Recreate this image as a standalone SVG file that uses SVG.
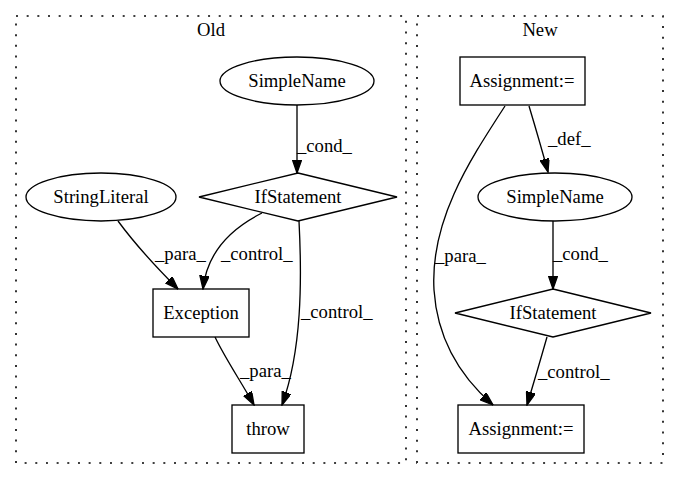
<svg xmlns="http://www.w3.org/2000/svg" width="679" height="480" viewBox="0 0 679 480">
<defs>
<style>
text{font-family:"Liberation Serif","Times New Roman",serif;font-size:18.67px;fill:#000}
.n{fill:none;stroke:#000;stroke-width:1.33}
.c{fill:none;stroke:#000;stroke-width:1.6;stroke-dasharray:2,8.67}
.e{fill:none;stroke:#000;stroke-width:1.33;marker-end:url(#a)}
</style>
<marker id="a" markerWidth="14" markerHeight="10" refX="13.3" refY="4.7" orient="auto" markerUnits="userSpaceOnUse">
<path d="M0,0 L13.3,4.7 L0,9.3 Z" fill="#000" stroke="#000" stroke-width="1.33"/>
</marker>
</defs>
<rect width="679" height="480" fill="#fff"/>
<g id="clusters">
<rect class="c" x="16" y="16" width="390" height="447"/>
<text x="211" y="36" text-anchor="middle">Old</text>
<rect class="c" x="417" y="16" width="246" height="447"/>
<text x="540" y="36" text-anchor="middle">New</text>
</g>
<g id="edges">
<path class="e" d="M297,105 L297,173"/>
<text x="297" y="152">_cond_</text>
<path class="e" d="M118,221 C132,240 154,265 178,289"/>
<text x="155" y="260">_para_</text>
<path class="e" d="M262,213 C232,228 207,252 203,289"/>
<text x="221" y="260">_control_</text>
<path class="e" d="M299,221 C302,280 302,350 282,405"/>
<text x="301" y="318">_control_</text>
<path class="e" d="M215,337 C225,358 240,380 254,405"/>
<text x="240" y="377">_para_</text>
<path class="e" d="M529,106 C535,126 542,150 548,172"/>
<text x="548" y="145">_def_</text>
<path class="e" d="M553,221 L553,289"/>
<text x="553" y="260">_cond_</text>
<path class="e" d="M547,337 C541,358 534,382 527,405"/>
<text x="538" y="378">_control_</text>
<path class="e" d="M505,106 C470,160 430,220 434,290 C438,350 470,385 493,405"/>
<text x="435" y="262">_para_</text>
</g>
<g id="old_simplename"><ellipse class="n" cx="297" cy="81" rx="77" ry="24"/><text x="297" y="87" text-anchor="middle">SimpleName</text></g>
<g id="old_ifstatement"><polygon class="n" points="298,173 397,197 298,221 199,197"/><text x="298" y="203" text-anchor="middle">IfStatement</text></g>
<g id="old_stringliteral"><ellipse class="n" cx="101" cy="197" rx="75" ry="24"/><text x="101" y="203" text-anchor="middle">StringLiteral</text></g>
<g id="old_exception"><rect class="n" x="153" y="289" width="96" height="48"/><text x="201" y="319" text-anchor="middle">Exception</text></g>
<g id="old_throw"><rect class="n" x="232" y="405" width="72" height="48"/><text x="268" y="435" text-anchor="middle">throw</text></g>
<g id="new_assignment1"><rect class="n" x="460" y="57" width="125" height="48"/><text x="522" y="87" text-anchor="middle">Assignment:=</text></g>
<g id="new_simplename"><ellipse class="n" cx="555" cy="197" rx="77" ry="24"/><text x="555" y="203" text-anchor="middle">SimpleName</text></g>
<g id="new_ifstatement"><polygon class="n" points="553,289 651,313 553,337 455,313"/><text x="553" y="319" text-anchor="middle">IfStatement</text></g>
<g id="new_assignment2"><rect class="n" x="458" y="405" width="126" height="48"/><text x="521" y="435" text-anchor="middle">Assignment:=</text></g>
</svg>
